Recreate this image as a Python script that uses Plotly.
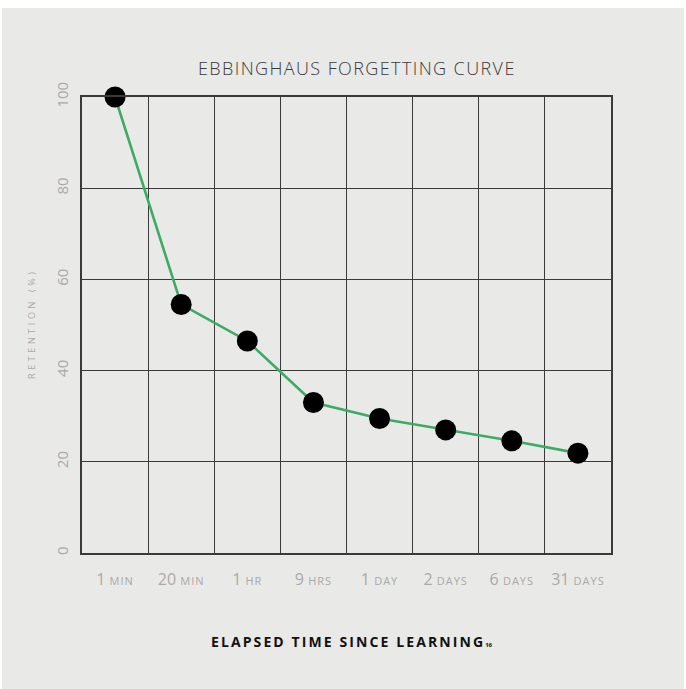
import plotly.graph_objects as go

# Elapsed-time categories (value, unit) and retention percentages
time_values = ["1", "20", "1", "9", "1", "2", "6", "31"]
time_units = ["MIN", "MIN", "HR", "HRS", "DAY", "DAYS", "DAYS", "DAYS"]
retention = [100, 54.5, 46.5, 33, 29.5, 27, 24.6, 21.9]
y_ticks = [0, 20, 40, 60, 80, 100]

BG = "#e9e9e7"
GRID = "#3a3a3a"
LABEL = "#a9a9a9"
FONT = "Open Sans"

x_pos = list(range(len(retention)))
tick_text = [
    f"{v} <span style='font-size:11px;letter-spacing:1px'>{u}</span>"
    for v, u in zip(time_values, time_units)
]

fig = go.Figure()
fig.add_trace(go.Scatter(
    x=x_pos,
    y=retention,
    mode="lines+markers",
    line=dict(color="#3dab62", width=2.6),
    marker=dict(color="#000000", size=21),
    cliponaxis=False,
    hoverinfo="skip",
))

# plot area pixel geometry
L, R, T, B = 82, 75, 97, 136
W, H = 686, 689
pw, ph = W - L - R, H - T - B

# gray card with a thin white edge around it
fig.add_shape(
    type="rect", xref="paper", yref="paper", layer="below",
    x0=(2 - L) / pw, x1=(684 - L) / pw,
    y0=(ph + T - 689) / ph, y1=(ph + T - 8) / ph,
    fillcolor=BG, line=dict(width=0),
)

fig.update_layout(
    width=W, height=H,
    margin=dict(l=L, r=R, t=T, b=B),
    paper_bgcolor="#ffffff",
    plot_bgcolor=BG,
    showlegend=False,
    font=dict(family=FONT),
    xaxis=dict(
        range=[-0.5, len(retention) - 0.5],
        tickmode="array", tickvals=x_pos, ticktext=tick_text,
        tickfont=dict(size=16, color=LABEL, family=FONT),
        showgrid=False, zeroline=False,
        showline=True, linecolor=GRID, linewidth=1.6, mirror=True,
        ticks="", ticklabelstandoff=11,
        minor=dict(
            tickvals=[i - 0.5 for i in range(1, len(retention))],
            showgrid=True, gridcolor=GRID, gridwidth=1.4, ticks="",
        ),
        fixedrange=True,
    ),
    yaxis=dict(
        range=[0, 100],
        tickmode="array", tickvals=y_ticks,
        tickfont=dict(size=15, color=LABEL, family=FONT),
        tickangle=-90,
        showgrid=True, gridcolor=GRID, gridwidth=1.4,
        zeroline=False,
        showline=True, linecolor=GRID, linewidth=1.6, mirror=True,
        ticks="", ticklabelstandoff=6,
        fixedrange=True,
    ),
    annotations=[
        dict(
            text="<span style='letter-spacing:1.4px'>EBBINGHAUS FORGETTING CURVE</span>",
            xref="paper", yref="paper",
            x=(357 - L) / pw, y=(ph + T - 68) / ph,
            xanchor="center", yanchor="middle", showarrow=False,
            font=dict(size=18, color="#3a3a3a", family=FONT, weight=300),
        ),
        dict(
            text="<span style='letter-spacing:3.6px'>RETENTION (%)</span>",
            xref="paper", yref="paper",
            x=(31 - L) / pw, y=(ph + T - 324) / ph,
            xanchor="center", yanchor="middle", showarrow=False,
            textangle=-90,
            font=dict(size=9, color=LABEL, family=FONT),
        ),
        dict(
            text="<span style='font-weight:bold;letter-spacing:2.1px'>ELAPSED TIME SINCE LEARNING</span>"
                 "<span style='font-size:6px;font-weight:bold'>16</span>",
            xref="paper", yref="paper",
            x=(352 - L) / pw, y=(ph + T - 641) / ph,
            xanchor="center", yanchor="middle", showarrow=False,
            font=dict(size=14, color="#111111", family=FONT),
        ),
    ],
)

fig.write_html("out.html")
